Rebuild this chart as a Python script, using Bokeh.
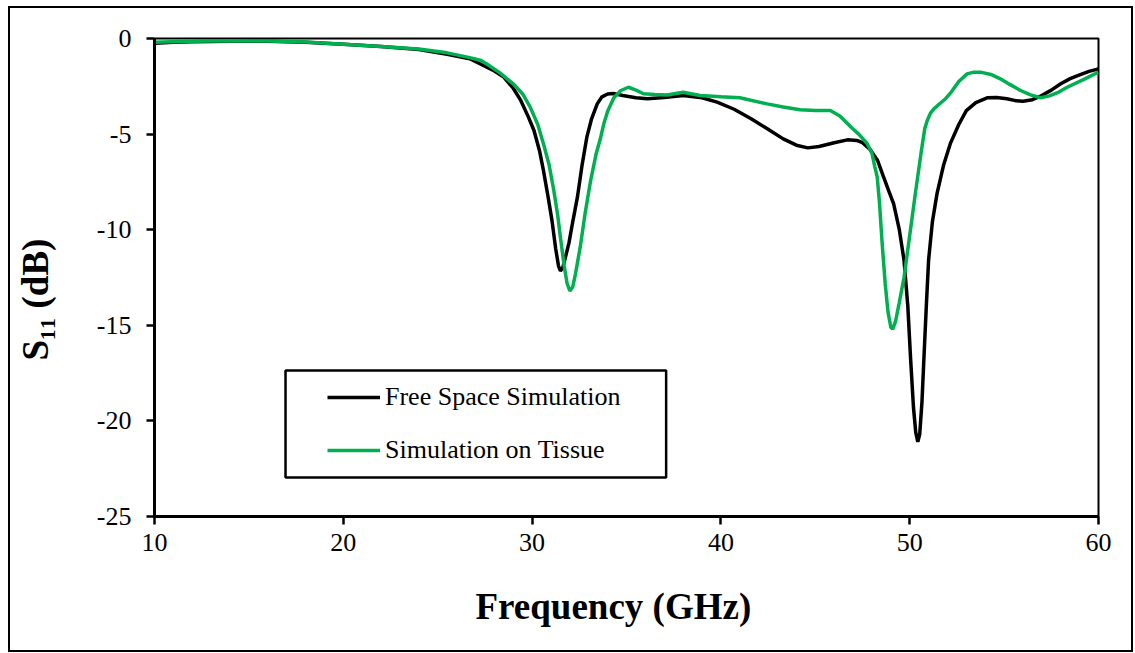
from bokeh.plotting import figure
from bokeh.models import Range1d, Legend, LegendItem, BoxAnnotation, FixedTicker, PrintfTickFormatter, Title
from bokeh.embed import file_html
from bokeh.resources import INLINE

# ---- data ----
freq_free = [10.0, 11.0, 12.0, 14.0, 16.0, 18.0, 20.0, 22.0, 24.0, 25.5, 26.7, 27.5, 28.0, 28.5, 29.0,
             29.4, 29.8, 30.1, 30.4, 30.6, 30.85, 31.05, 31.25, 31.4, 31.5, 31.62, 31.75, 31.95, 32.15, 32.4,
             32.65, 32.9, 33.15, 33.45, 33.7, 34.0, 34.3, 34.8, 35.5, 36.1, 37.0, 38.0, 39.0, 39.8, 40.7,
             41.6, 42.5, 43.3, 44.0, 44.6, 45.2, 46.0, 46.7, 47.2, 47.5, 47.9, 48.3, 48.6, 48.9, 49.15,
             49.45, 49.7, 49.9, 50.05, 50.2, 50.32, 50.43, 50.53, 50.65, 50.75, 50.88, 51.0, 51.2, 51.45, 51.8,
             52.15, 52.6, 53.0, 53.5, 54.1, 54.6, 55.15, 55.6, 56.0, 56.5, 56.9, 57.5, 58.0, 58.5, 59.0,
             59.5, 60.0]
s11_free = [-0.25, -0.2, -0.17, -0.14, -0.14, -0.2, -0.3, -0.42, -0.58, -0.82, -1.06, -1.45, -1.7, -2.02, -2.6,
            -3.24, -4.1, -4.81, -5.9, -6.9, -8.3, -9.5, -11.0, -11.9, -12.15, -12.0, -11.5, -10.7, -9.6, -8.3,
            -6.6, -5.16, -4.2, -3.42, -3.05, -2.9, -2.88, -2.98, -3.1, -3.15, -3.08, -2.98, -3.1, -3.33, -3.7,
            -4.2, -4.75, -5.25, -5.58, -5.72, -5.65, -5.45, -5.3, -5.33, -5.45, -5.8, -6.38, -7.2, -8.0, -8.65,
            -10.0, -11.6, -14.0, -16.8, -19.3, -20.6, -21.1, -20.7, -19.0, -16.8, -14.0, -11.6, -9.6, -8.1, -6.6,
            -5.5, -4.5, -3.77, -3.35, -3.1, -3.08, -3.15, -3.25, -3.28, -3.2, -3.03, -2.7, -2.37, -2.1, -1.9,
            -1.72, -1.59]

freq_tissue = [10.0, 11.0, 12.0, 14.0, 16.0, 18.0, 20.0, 22.0, 24.0, 25.5, 26.7, 27.3, 27.6, 28.3, 29.0,
               29.5, 29.9, 30.3, 30.6, 30.9, 31.15, 31.35, 31.5, 31.7, 31.85, 32.0, 32.15, 32.3, 32.55, 32.8,
               33.1, 33.4, 33.6, 33.8, 34.0, 34.33, 34.7, 35.1, 35.5, 35.9, 36.5, 37.15, 38.0, 38.9, 40.0,
               41.0, 42.45, 43.3, 44.2, 45.0, 45.8, 46.3, 46.9, 47.3, 47.75, 48.0, 48.15, 48.28, 48.4, 48.54,
               48.7, 48.85, 49.0, 49.1, 49.25, 49.45, 49.7, 50.0, 50.3, 50.6, 50.8, 50.93, 51.1, 51.28, 51.6,
               51.9, 52.2, 52.6, 53.04, 53.4, 53.75, 54.3, 54.8, 55.3, 55.87, 56.4, 56.93, 57.4, 57.9, 58.34,
               59.2, 60.0]
s11_tissue = [-0.2, -0.17, -0.15, -0.12, -0.13, -0.18, -0.3, -0.42, -0.55, -0.75, -1.0, -1.15, -1.33, -1.8, -2.37,
              -2.9, -3.59, -4.5, -5.5, -6.6, -7.95, -9.2, -10.4, -11.9, -12.8, -13.2, -13.0, -12.3, -10.9, -9.2,
              -7.43, -6.0, -5.3, -4.46, -3.8, -3.1, -2.72, -2.55, -2.7, -2.89, -2.93, -2.95, -2.81, -2.98, -3.05,
              -3.1, -3.42, -3.58, -3.73, -3.76, -3.77, -4.05, -4.64, -5.0, -5.5, -6.0, -6.7, -7.25, -8.6, -10.7,
              -12.8, -14.3, -15.1, -15.2, -14.8, -13.8, -12.5, -10.3, -8.1, -6.0, -4.7, -4.29, -3.9, -3.68, -3.4,
              -3.15, -2.8, -2.25, -1.85, -1.76, -1.76, -1.88, -2.11, -2.4, -2.72, -2.95, -3.1, -3.0, -2.8, -2.55,
              -2.15, -1.76]

x_ticks = [10, 20, 30, 40, 50, 60]
y_ticks = [0, -5, -10, -15, -20, -25]
series_names = ["Free Space Simulation", "Simulation on Tissue"]
series_colors = ["#000000", "#00B050"]
x_title = "Frequency (GHz)"
y_title = "S\u2081\u2081 (dB)"

FONT = "Liberation Serif"

p = figure(width=1121, height=642, output_backend="svg", toolbar_location=None,
           x_range=Range1d(10, 60), y_range=Range1d(-25, 0),
           min_border_left=144, min_border_top=30, min_border_right=33, min_border_bottom=134,
           margin=(8, 0, 0, 10), styles={"outline": "2px solid black"})

p.xgrid.visible = False
p.ygrid.visible = False
p.background_fill_color = "white"
p.border_fill_color = "white"
p.outline_line_color = "black"
p.outline_line_width = 2

for ax, ticks in ((p.xaxis[0], x_ticks), (p.yaxis[0], y_ticks)):
    ax.ticker = FixedTicker(ticks=ticks)
    ax.formatter = PrintfTickFormatter(format="%d")
    ax.axis_line_width = 3
    ax.axis_line_color = "black"
    ax.major_tick_line_width = 2.5
    ax.major_tick_line_color = "black"
    ax.major_tick_out = 8
    ax.major_tick_in = 0
    ax.minor_tick_line_color = None
    ax.major_label_text_font = FONT
    ax.major_label_text_font_size = "26px"
    ax.major_label_text_color = "black"

p.xaxis.major_label_standoff = 9
p.yaxis.major_label_standoff = 15

# padding is (left, right, top, bottom)
p.add_layout(Title(text=x_title, align="left", offset=321, standoff=0, padding=(0, 0, 30, 0),
                   text_font=FONT, text_font_style="bold", text_font_size="37px",
                   text_color="black"), "below")
p.add_layout(Title(text=y_title, align="left", offset=156, standoff=0, padding=(0, 0, 0, 38),
                   text_font=FONT, text_font_style="bold", text_font_size="37px",
                   text_color="black"), "left")

r1 = p.line(freq_free, s11_free, line_color=series_colors[0], line_width=3.5)
r2 = p.line(freq_tissue, s11_tissue, line_color=series_colors[1], line_width=3.5)

# legend frame (data coordinates of the box in the reference)
box = BoxAnnotation(left=16.94, right=37.1, top=-17.36, bottom=-22.96,
                    fill_color="white", fill_alpha=1.0, line_color="black", line_alpha=1.0, line_width=2.5)
p.add_layout(box)

legend = Legend(items=[LegendItem(label=series_names[0], renderers=[r1]),
                       LegendItem(label=series_names[1], renderers=[r2])],
                location=(173, 51), orientation="vertical",
                padding=0, margin=0, spacing=23,
                glyph_width=53, glyph_height=30, label_height=30, label_standoff=5,
                label_text_font=FONT, label_text_font_size="26px", label_text_color="black",
                border_line_alpha=0, background_fill_alpha=0)
p.add_layout(legend, "center")

open("out.html", "w").write(file_html(p, INLINE))
